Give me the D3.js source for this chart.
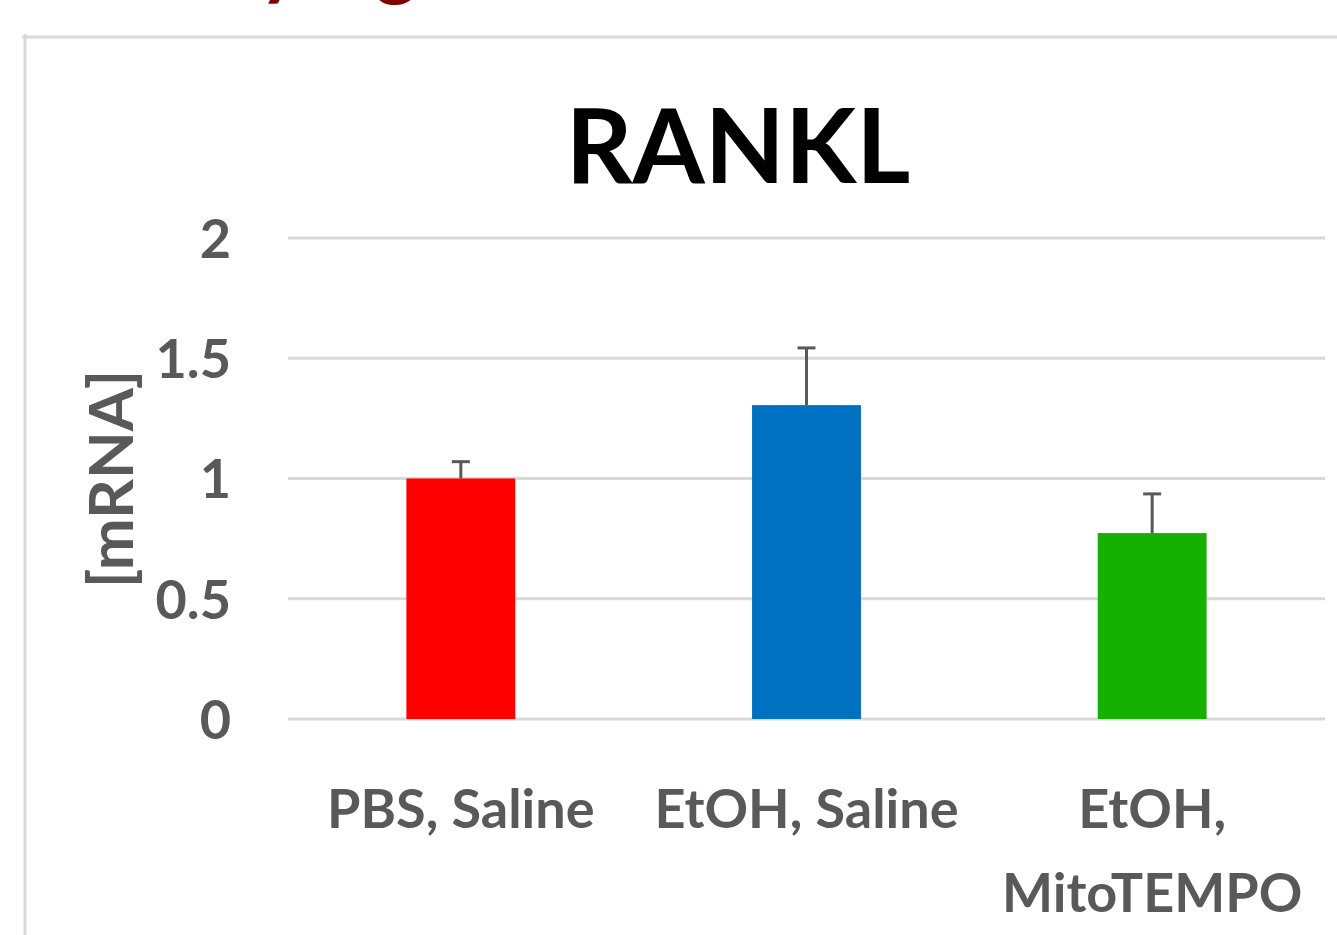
<!DOCTYPE html>
<html>
<head>
<meta charset="utf-8">
<script src="https://cdn.jsdelivr.net/npm/d3@7"></script>
<style>
  body { margin: 0; background: #fff; }
  text { font-family: Lato, "Open Sans", sans-serif; font-weight: bold; }
</style>
</head>
<body>
<div id="chart"></div>
<script>
// data
var groups = ["PBS, Saline", "EtOH, Saline", "EtOH, MitoTEMPO"];
var means = [1.0, 1.305, 0.773];
var errors = [0.07, 0.238, 0.163];
var colors = ["#ff0000", "#0070c0", "#16b000"];
var yTicks = [0, 0.5, 1, 1.5, 2];

var w = 1337;
var h = 935;
var plotLeft = 288, plotRight = 1325, plotTop = 238, plotBottom = 719;

var svg = d3.select("#chart")
  .append("svg")
  .attr("width", w)
  .attr("height", h);

// cut-off heading above the panel (only descenders show)
svg.append("text")
  .attr("x", 280).attr("y", -10)
  .attr("text-anchor", "middle")
  .attr("font-size", 80)
  .attr("fill", "#800000")
  .text("y");
svg.append("text")
  .attr("x", 396).attr("y", -10)
  .attr("text-anchor", "middle")
  .attr("font-size", 80)
  .attr("fill", "#800000")
  .text("g");

// panel border (top and left edge)
svg.append("line")
  .attr("x1", 22).attr("x2", w).attr("y1", 37).attr("y2", 37)
  .attr("stroke", "#d9d9d9").attr("stroke-width", 3);
svg.append("line")
  .attr("x1", 25).attr("x2", 25).attr("y1", 34).attr("y2", h)
  .attr("stroke", "#d9d9d9").attr("stroke-width", 3);

var xScale = d3.scaleBand()
  .domain(groups)
  .range([plotLeft, plotRight])
  .padding(0);

var yScale = d3.scaleLinear()
  .domain([0, 2])
  .range([plotBottom, plotTop]);

// gridlines
svg.selectAll("line.grid")
  .data(yTicks)
  .enter()
  .append("line")
  .attr("class", "grid")
  .attr("x1", plotLeft).attr("x2", plotRight)
  .attr("y1", d => yScale(d)).attr("y2", d => yScale(d))
  .attr("stroke", "#d9d9d9")
  .attr("stroke-width", 3);

// y tick labels
var yAxis = d3.axisLeft(yScale)
  .tickValues(yTicks)
  .tickFormat(d => String(d))
  .tickSize(0)
  .tickPadding(0);

var gy = svg.append("g")
  .attr("transform", "translate(231,0)")
  .call(yAxis);
gy.select(".domain").remove();
gy.selectAll("text")
  .attr("font-size", 54)
  .attr("fill", "#595959")
  .attr("font-family", "Lato, sans-serif")
  .attr("font-weight", "bold")
  .attr("dy", "0.36em");

// bars
var barW = xScale.bandwidth() * 0.315;
svg.selectAll("rect.bar")
  .data(groups)
  .enter()
  .append("rect")
  .attr("class", "bar")
  .attr("x", d => xScale(d) + xScale.bandwidth() / 2 - barW / 2)
  .attr("y", (d, i) => yScale(means[i]))
  .attr("width", barW)
  .attr("height", (d, i) => yScale(0) - yScale(means[i]))
  .attr("fill", (d, i) => colors[i]);

// error bars (upper only)
var eb = svg.selectAll("g.err")
  .data(groups)
  .enter()
  .append("g")
  .attr("class", "err")
  .attr("transform", d => "translate(" + (xScale(d) + xScale.bandwidth() / 2) + ",0)");
eb.append("line")
  .attr("x1", 0).attr("x2", 0)
  .attr("y1", (d, i) => yScale(means[i]))
  .attr("y2", (d, i) => yScale(means[i] + errors[i]))
  .attr("stroke", "#595959").attr("stroke-width", 3);
eb.append("line")
  .attr("x1", -9).attr("x2", 9)
  .attr("y1", (d, i) => yScale(means[i] + errors[i]))
  .attr("y2", (d, i) => yScale(means[i] + errors[i]))
  .attr("stroke", "#595959").attr("stroke-width", 3);

// category labels
var labelLines = [["PBS, Saline"], ["EtOH, Saline"], ["EtOH,", "MitoTEMPO"]];
svg.selectAll("text.cat")
  .data(groups)
  .enter()
  .append("text")
  .attr("class", "cat")
  .attr("text-anchor", "middle")
  .attr("font-size", 54)
  .attr("fill", "#595959")
  .attr("x", d => xScale(d) + xScale.bandwidth() / 2)
  .attr("y", 828)
  .each(function(d, i) {
    var t = d3.select(this);
    labelLines[i].forEach(function(s, k) {
      t.append("tspan")
        .attr("x", xScale(d) + xScale.bandwidth() / 2)
        .attr("dy", k == 0 ? 0 : 84)
        .text(s);
    });
  });

// y axis title
svg.append("text")
  .attr("text-anchor", "middle")
  .attr("transform", "translate(133,479)rotate(-90)")
  .attr("font-size", 62)
  .attr("fill", "#595959")
  .text("[mRNA]");

// chart title
svg.append("text")
  .attr("text-anchor", "middle")
  .attr("x", 738)
  .attr("y", 183)
  .attr("font-size", 104)
  .attr("fill", "#000")
  .text("RANKL");
</script>
</body>
</html>
